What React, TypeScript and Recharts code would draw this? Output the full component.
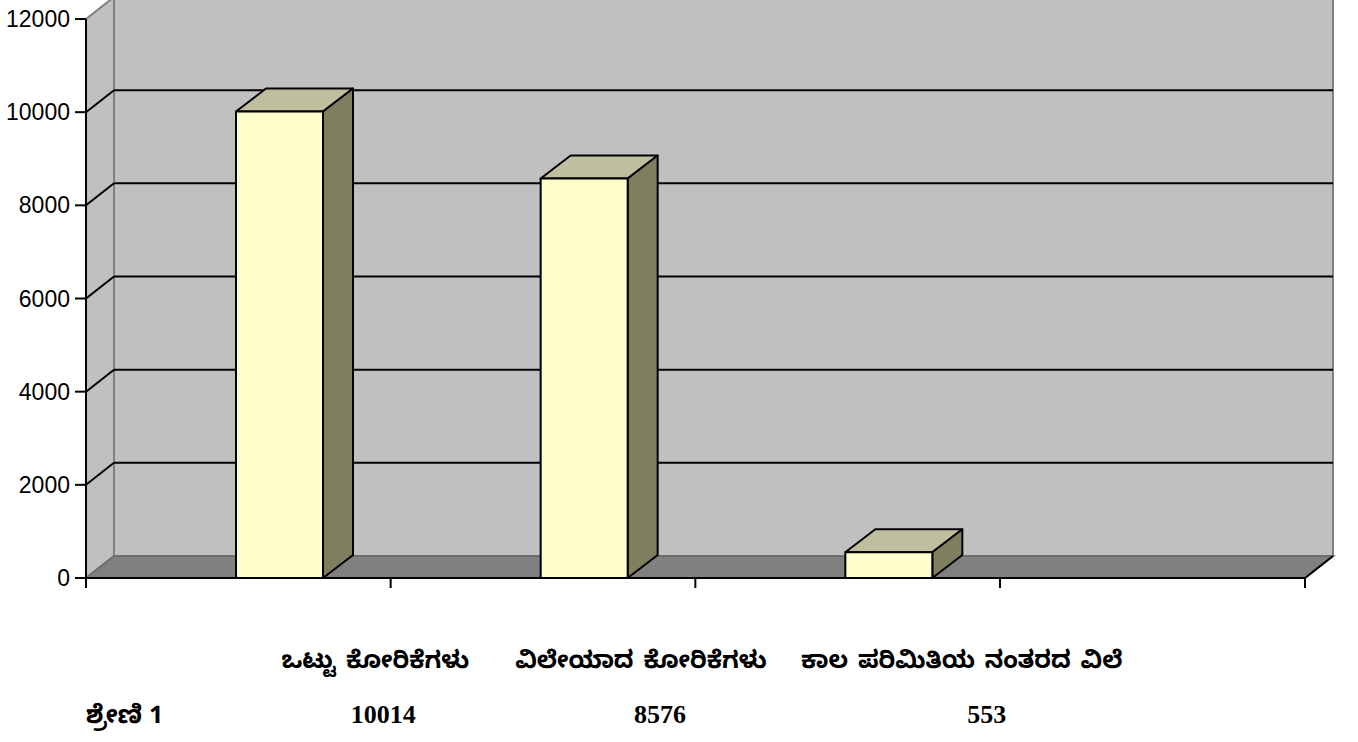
import { Bar, BarChart, CartesianGrid, XAxis, YAxis } from "recharts";

const categories = [
  "ಒಟ್ಟು ಕೋರಿಕೆಗಳು",
  "ವಿಲೇಯಾದ ಕೋರಿಕೆಗಳು",
  "ಕಾಲ ಪರಿಮಿತಿಯ ನಂತರದ ವಿಲೆ",
];
const seriesName = "ಶ್ರೇಣಿ 1";
const seriesValues = [10014, 8576, 553];
const yTicks = [0, 2000, 4000, 6000, 8000, 10000, 12000];

const data = categories.map((name, i) => ({ name, value: seriesValues[i] }));

// depth of the 3d floor / walls
const DX = 28;
const DY = 22;
// depth of the bars
const BX = 30;
const BY = 23;
// bars sit this far right of their category slot (mid-depth placement)
const PAD_LEFT = 41;
const PAD_RIGHT = 264;
const TICK = 10;

// offsets of the data table columns from the bar centres
const labelDx = [96, 57, 73];
const valueDx = [104, 76, 98];

const KANNADA = "'Tunga', 'Noto Sans Kannada', 'Lohit Kannada', 'Noto Sans', sans-serif";
const SERIF = "'Liberation Serif', 'Times New Roman', serif";

const renderGridLine = (props: any) => {
  const { x1, x2, y1, index, y, height, key } = props;
  const top = y;
  const bottom = y + height;
  const inside = y1 > top + 1 && y1 < bottom - 1;
  return (
    <g key={key}>
      {index === 0 && (
        <g>
          <polygon
            points={`${x1},${top} ${x1 + DX},${top - DY} ${x1 + DX},${bottom - DY} ${x1},${bottom}`}
            fill="#C0C0C0"
            stroke="#808080"
            strokeWidth={2}
          />
          <rect x={x1 + DX} y={top - DY} width={x2 - x1} height={height} fill="#C0C0C0" stroke="#808080" strokeWidth={2} />
          <polygon
            points={`${x1},${bottom} ${x1 + DX},${bottom - DY} ${x2 + DX},${bottom - DY} ${x2},${bottom}`}
            fill="#808080"
            stroke="#6E6E6E"
            strokeWidth={2}
          />
          <line x1={x2} y1={bottom} x2={x2 + DX} y2={bottom - DY} stroke="#000" strokeWidth={2} />
          <line x1={x2} y1={bottom} x2={x2} y2={bottom + TICK} stroke="#000" strokeWidth={2} />
        </g>
      )}
      {inside && (
        <g>
          <line x1={x1 + DX} y1={y1 - DY} x2={x2 + DX} y2={y1 - DY} stroke="#000" strokeWidth={2} />
          <line x1={x1} y1={y1} x2={x1 + DX} y2={y1 - DY} stroke="#000" strokeWidth={2} />
        </g>
      )}
    </g>
  );
};

const Bar3D = (props: any) => {
  const { x, y, width, height } = props;
  if (x == null || y == null || !width) return <g />;
  const r = x + width;
  const b = y + height;
  return (
    <g strokeLinejoin="round">
      <polygon points={`${x},${y} ${x + BX},${y - BY} ${r + BX},${y - BY} ${r},${y}`} fill="#BFBF9F" stroke="#000" strokeWidth={2} />
      <polygon points={`${r},${y} ${r + BX},${y - BY} ${r + BX},${b - BY} ${r},${b}`} fill="#7F7F5F" stroke="#000" strokeWidth={2} />
      <rect x={x} y={y} width={width} height={height} fill="#FFFFCC" stroke="#000" strokeWidth={2} />
    </g>
  );
};

// tick marks between categories plus the data table under the chart
const TableTick = (props: any) => {
  const { x, y, index, payload } = props;
  const half = payload.offset || 0;
  const start = x - half - PAD_LEFT;
  const end = x + half - PAD_LEFT;
  return (
    <g>
      <line x1={start} y1={y} x2={start} y2={y + TICK} stroke="#000" strokeWidth={2} />
      {index === categories.length - 1 && (
        <line x1={end} y1={y} x2={end} y2={y + TICK} stroke="#000" strokeWidth={2} />
      )}
      {index === 0 && (
        <text x={start} y={y + 145} textAnchor="start" fontFamily={KANNADA} fontWeight="bold" fontSize={25} fill="#000">
          {seriesName}
        </text>
      )}
      <text
        x={x + labelDx[index]}
        y={y + 90}
        textAnchor="middle"
        fontFamily={KANNADA}
        fontWeight="bold"
        fontSize={24}
        wordSpacing={3}
        fill="#000"
      >
        {categories[index]}
      </text>
      <text x={x + valueDx[index]} y={y + 145} textAnchor="middle" fontFamily={SERIF} fontWeight="bold" fontSize={26} fill="#000">
        {seriesValues[index]}
      </text>
    </g>
  );
};

export default function App() {
  return (
    <div style={{ position: "absolute", left: 0, top: 0, background: "#fff" }}>
      <BarChart width={1358} height={742} data={data} margin={{ top: 19, right: 53, bottom: 163, left: 0 }} barSize={87}>
        <CartesianGrid vertical={false} horizontal={renderGridLine} />
        <XAxis
          dataKey="name"
          height={1}
          padding={{ left: PAD_LEFT, right: PAD_RIGHT }}
          axisLine={{ stroke: "#000", strokeWidth: 2 }}
          tickLine={false}
          tickSize={0}
          tickMargin={0}
          interval={0}
          tick={<TableTick />}
        />
        <YAxis
          width={86}
          domain={[0, 12000]}
          ticks={yTicks}
          interval={0}
          tickSize={11}
          tickMargin={5}
          axisLine={{ stroke: "#000", strokeWidth: 2 }}
          tickLine={{ stroke: "#000", strokeWidth: 2 }}
          tick={{ fill: "#000", fontSize: 23, fontFamily: "'Liberation Sans', Arial, sans-serif" }}
        />
        <Bar dataKey="value" shape={<Bar3D />} isAnimationActive={false} />
      </BarChart>
    </div>
  );
}
